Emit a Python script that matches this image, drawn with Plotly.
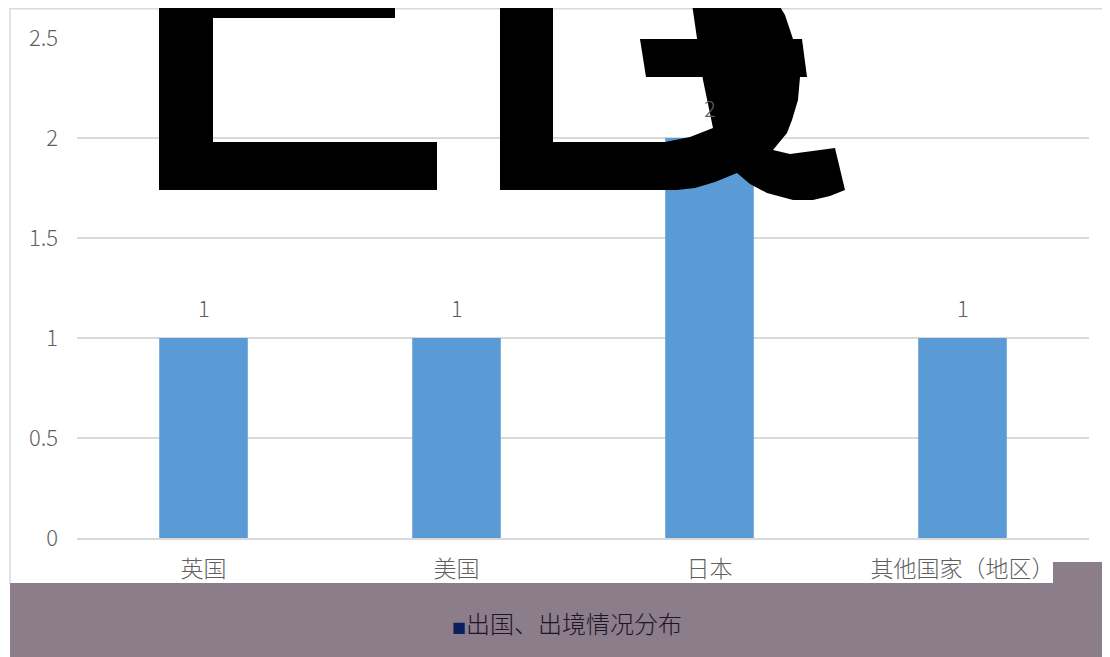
import plotly.graph_objects as go

categories = ["英国", "美国", "日本", "其他国家（地区）"]
values = [1, 1, 2, 1]
series_name = "出国、出境情况分布"
y_ticks = [0, 0.5, 1, 1.5, 2, 2.5]
y_tick_labels = ["0", "0.5", "1", "1.5", "2", "2.5"]

# page offset (body margin) compensation
OFF = 8
W, H = 1110 - OFF, 657 - OFF
# plot area in page pixels
PX0, PX1, PY0, PY1 = 77, 1089, 38, 538
L, R, T, B = PX0 - OFF, 1110 - PX1, PY0 - OFF, 657 - PY1
PW, PH = PX1 - PX0, PY1 - PY0

def px(x):
    return (x - PX0) / PW

def py(y):
    return (PY1 - y) / PH

def path(points):
    return "M " + " L ".join(f"{px(a):.5f},{py(b):.5f}" for a, b in points) + " Z"

FONT = "Noto Sans CJK SC, Microsoft YaHei, sans-serif"
GRAY = "#5F5F5F"
BAND = "#8C7D8B"

fig = go.Figure()
fig.add_trace(go.Bar(
    x=categories, y=values, name=series_name,
    marker=dict(color="#5B9BD5", line=dict(width=0)),
    width=0.35, showlegend=False,
))

annotations = []
for c, v in zip(categories, values):
    annotations.append(dict(x=c, y=v, xref="x", yref="y", text=str(v), showarrow=False,
                            yanchor="bottom", yshift=13,
                            font=dict(family=FONT, size=22, color=GRAY, weight=300)))
annotations.append(dict(x=px(567), y=py(622), xref="paper", yref="paper",
                        text=f"<span style='color:#0B1E5E;font-size:14px'>■</span>{series_name}",
                        showarrow=False, xanchor="center", yanchor="middle",
                        font=dict(family=FONT, size=24, color="#1E1428", weight=300)))

q_outline = [(500, -10), (553, -10), (553, 142), (665, 142), (690, 137), (713, 128), (703, 80),
             (690, -10), (770, -10), (785, 15), (795, 45), (800, 77), (798, 100), (792, 120),
             (787, 133), (773, 150), (790, 154), (835, 148), (845, 190), (830, 196), (813, 200),
             (793, 200), (767, 193), (750, 184), (737, 173), (715, 182), (695, 188), (677, 190),
             (500, 190)]

shapes = [
    # bottom band
    dict(type="rect", xref="paper", yref="paper", x0=px(10), x1=px(1115), y0=py(583), y1=py(662),
         fillcolor=BAND, line=dict(width=0), layer="below"),
    dict(type="rect", xref="paper", yref="paper", x0=px(1053), x1=px(1115), y0=py(562), y1=py(584),
         fillcolor=BAND, line=dict(width=0), layer="above"),
    # border
    dict(type="line", xref="paper", yref="paper", x0=px(10), x1=px(10), y0=py(8), y1=py(583),
         line=dict(color="#D9D9D9", width=1.5)),
    dict(type="line", xref="paper", yref="paper", x0=px(10), x1=px(1115), y0=py(8.7), y1=py(8.7),
         line=dict(color="#D9D9D9", width=1.5)),
    # overlay glyphs
    dict(type="path", xref="paper", yref="paper", fillcolor="black", line=dict(width=0), layer="above",
         path=path([(159, -10), (395, -10), (395, 18), (213, 18), (213, 142), (437, 142), (437, 190), (159, 190)])),
    dict(type="path", xref="paper", yref="paper", fillcolor="black", line=dict(width=0), layer="above",
         path=path(q_outline)),
    dict(type="path", xref="paper", yref="paper", fillcolor="black", line=dict(width=0), layer="above",
         path=path([(640, 39), (802, 39), (807, 77), (646, 77)])),
]

fig.update_layout(
    width=W, height=H,
    margin=dict(l=L, r=R, t=T, b=B),
    paper_bgcolor="white", plot_bgcolor="white",
    showlegend=False,
    annotations=annotations,
    shapes=shapes,
    xaxis=dict(range=[-0.5, 3.5], showgrid=False, showline=True, linecolor="#D9D9D9", linewidth=1.5,
               ticks="", tickfont=dict(family=FONT, size=23, color=GRAY, weight=300), ticklabelstandoff=10),
    yaxis=dict(range=[0, 2.5], tickvals=y_ticks, ticktext=y_tick_labels, showgrid=True,
               gridcolor="#D9D9D9", gridwidth=1.5, zeroline=False, showline=False, ticks="",
               tickfont=dict(family=FONT, size=22, color=GRAY, weight=300), ticklabelstandoff=18),
)

fig.write_html("out.html")
